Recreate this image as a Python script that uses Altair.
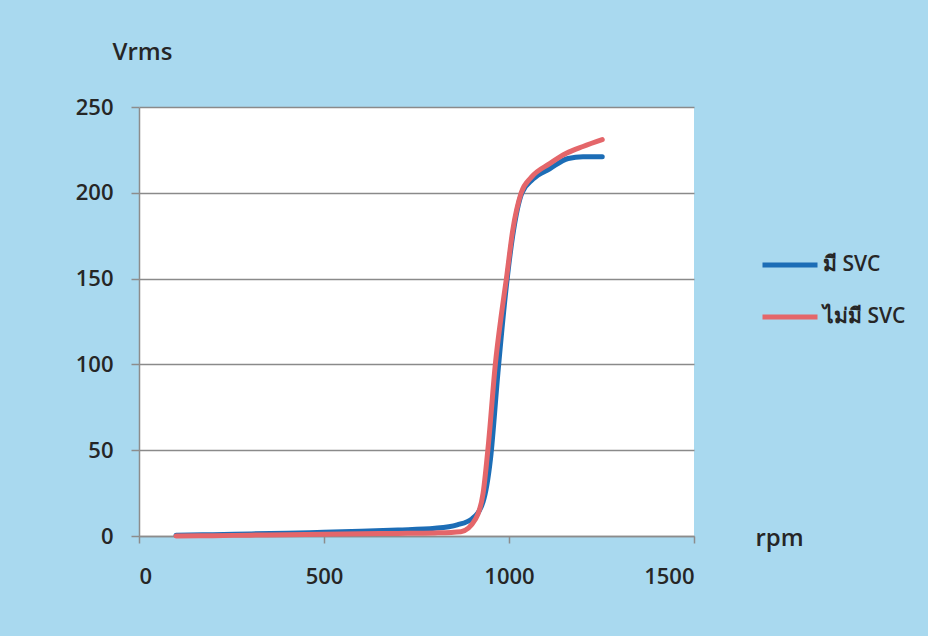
import altair as alt
import pandas as pd

series_names = ["มี SVC", "ไม่มี SVC"]
series_colors = ["#1c6db6", "#e4666a"]

rpm_svc = [100, 200, 300, 400, 500, 600, 700, 800, 860, 900, 930, 950, 970, 990,
           1010, 1035, 1065, 1110, 1160, 1200, 1252]
v_svc = [0.5, 0.8, 1.2, 1.6, 2.2, 2.8, 3.5, 4.5, 6.5, 10, 20, 45, 95, 140,
         175, 200, 208, 214, 220, 221, 221]

rpm_nosvc = [100, 200, 300, 400, 500, 600, 700, 800, 870, 910, 930, 945, 963, 980,
             993, 1010, 1033, 1060, 1110, 1155, 1200, 1252]
v_nosvc = [0, 0.2, 0.5, 0.8, 1.0, 1.3, 1.5, 1.8, 2.5, 10, 25, 55, 100, 130,
           150, 178, 200, 209, 217, 223, 227, 231]

x_ticks = [0, 500, 1000, 1500]
y_ticks = [0, 50, 100, 150, 200, 250]

df = pd.concat([
    pd.DataFrame({"rpm": rpm_svc, "v": v_svc, "series": series_names[0]}),
    pd.DataFrame({"rpm": rpm_nosvc, "v": v_nosvc, "series": series_names[1]}),
])

FONT = "Open Sans"
TXT = "#262626"
W = 600

chart = alt.Chart(df).mark_line(strokeWidth=5, interpolate="monotone", strokeCap="round").encode(
    x=alt.X("rpm:Q", scale=alt.Scale(domain=[0, 1500], nice=False),
            axis=alt.Axis(values=x_ticks, format="d", title="rpm", grid=False,
                          titleAngle=0, titleX=616, titleY=2, titleAlign="left",
                          titleBaseline="middle", titleFontSize=24, titleFontWeight=W,
                          titleFont=FONT, titleColor=TXT,
                          labelFont=FONT, labelFontSize=22, labelColor=TXT, labelFontWeight=W,
                          labelPadding=23, tickSize=7, tickColor="#8c8c8c",
                          domainColor="#8c8c8c", domainWidth=1.5, tickWidth=1.5)),
    y=alt.Y("v:Q", scale=alt.Scale(domain=[0, 250], nice=False),
            axis=alt.Axis(values=y_ticks, format="d", title="Vrms", grid=True, gridColor="#8a8a8a",
                          gridWidth=1.5,
                          titleAngle=0, titleX=-27, titleY=-55, titleAlign="left",
                          titleBaseline="middle", titleFontSize=24, titleFontWeight=W,
                          titleFont=FONT, titleColor=TXT,
                          labelFont=FONT, labelFontSize=22, labelColor=TXT, labelFontWeight=W,
                          labelPadding=18, tickSize=8, tickColor="#8c8c8c",
                          domainColor="#8c8c8c", domainWidth=1.5, tickWidth=1.5)),
    color=alt.Color("series:N", scale=alt.Scale(domain=series_names, range=series_colors),
                    legend=alt.Legend(title=None, orient="none", legendX=621, legendY=128,
                                      symbolType="stroke", symbolSize=3025, symbolStrokeWidth=5,
                                      labelFont=FONT, labelFontSize=21, labelColor=TXT,
                                      labelFontWeight=W,
                                      labelOffset=3, rowPadding=12)),
).properties(
    width=555, height=429,
    autosize=alt.AutoSizeParams(type="none"),
    padding={"left": 139, "top": 107, "right": 234, "bottom": 100},
    background="#a9d9ef",
).configure_view(fill="white", stroke=None)

chart.save("out.html", embed_options={"renderer": "svg", "actions": False})
